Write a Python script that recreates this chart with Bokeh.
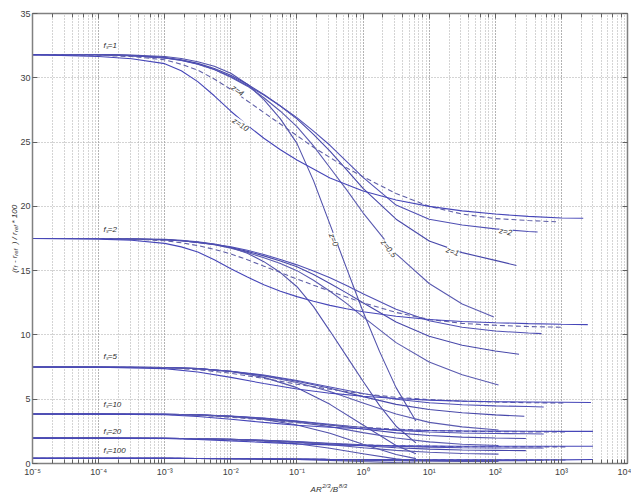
import math
from bokeh.plotting import figure
from bokeh.models import LogAxis, LinearAxis, Label, CustomJSTickFormatter, Range1d, FixedTicker, LogTicker
from bokeh.embed import file_html
from bokeh.resources import INLINE

# ---------------- data ----------------
FS = ["1", "2", "5", "10", "20", "100"]
Z = ["0", "0.5", "1", "2", "4", "10"]

# fine x positions (used by the f_s = 1 and f_s = 2 families)
XF = [1e-5, 1e-4, 3.16e-4, 1e-3, 1.78e-3, 3.16e-3, 5.62e-3, 1e-2, 1.78e-2, 3.16e-2,
      5.62e-2, 0.1, 0.178, 0.316, 0.562, 1]
XF_Z0 = XF + [1.78, 3.16]
XF_Z05 = XF + [3.16, 10, 31.6]
XF_Z1 = XF + [3.16, 10, 31.6, 100]
XF_Z2 = XF + [3.16, 10, 31.6, 100, 316]
XF_Z4 = XF + [3.16, 10, 31.6, 100, 316]
XF_Z10 = XF + [3.16, 10, 31.6, 100, 316, 1000]

# coarse x positions (used by the f_s = 5 ... 100 families)
XB_Z0 = [1e-5, 1e-4, 1e-3, 3.16e-3, 1e-2, 3.16e-2, 0.1, 0.316, 1, 3.16]
XB_Z05 = [1e-5, 1e-4, 1e-3, 3.16e-3, 1e-2, 3.16e-2, 0.1, 0.316, 1, 3.16, 10, 31.6]
XB_Z1 = [1e-5, 1e-4, 1e-3, 3.16e-3, 1e-2, 3.16e-2, 0.1, 0.316, 1, 3.16, 10, 31.6, 100]
XB_Z2 = [1e-5, 1e-4, 1e-3, 3.16e-3, 1e-2, 3.16e-2, 0.1, 0.316, 1, 3.16, 10, 31.6, 100, 316]
XB_Z4 = [1e-5, 1e-4, 1e-3, 3.16e-3, 1e-2, 3.16e-2, 0.1, 0.316, 1, 3.16, 10, 31.6, 100, 316]
XB_Z10 = [1e-5, 1e-4, 1e-3, 3.16e-3, 1e-2, 3.16e-2, 0.1, 0.316, 1, 3.16, 10, 31.6, 100, 316, 1000]

# last x of every curve, per f_s group
END_Z0 = [6.3, 6.3, 6.3, 6.3, 6.3, 6.3]
END_Z05 = [95, 112, 112, 112, 112, 112]
END_Z1 = [209, 229, 275, 290, 290, 290]
END_Z2 = [437, 500, 540, 540, 540, 540]
END_Z4 = [830, 1000, 1180, 1230, 1230, 1230]
END_Z10 = [2140, 2510, 2800, 3000, 3000, 3000]

# f_s = 1
Y1_Z0 = [31.8, 31.8, 31.76, 31.65, 31.5, 31.25, 30.9, 30.35, 29.5, 28.3, 26.8, 24.9, 22.0, 18.6, 15.2, 11.8, 8.7, 5.9, 3.3]
Y1_Z05 = [31.8, 31.8, 31.72, 31.55, 31.37, 31.08, 30.65, 30.05, 29.35, 28.45, 27.4, 26.2, 24.7, 23.0, 21.3, 19.5, 16.3, 14.0, 12.4, 11.4]
Y1_Z1 = [31.8, 31.8, 31.72, 31.57, 31.4, 31.12, 30.72, 30.2, 29.5, 28.7, 27.8, 26.8, 25.6, 24.3, 22.85, 21.4, 19.0, 17.3, 16.4, 15.8, 15.4]
Y1_Z2 = [31.8, 31.8, 31.72, 31.55, 31.35, 31.05, 30.65, 30.1, 29.4, 28.65, 27.8, 26.9, 25.85, 24.75, 23.5, 22.25, 20.1, 19.0, 18.55, 18.25, 18.05, 18.0]
Y1_Z4 = [31.8, 31.75, 31.65, 31.4, 31.05, 30.6, 29.9, 29.1, 28.2, 27.3, 26.4, 25.5, 24.6, 23.8, 23.0, 22.3, 21.0, 20.0, 19.4, 19.05, 18.9, 18.8]
Y1_Z10 = [31.8, 31.65, 31.48, 31.1, 30.55, 29.7, 28.6, 27.4, 26.3, 25.3, 24.4, 23.6, 22.9, 22.2, 21.7, 21.2, 20.5, 20.0, 19.65, 19.4, 19.22, 19.1, 19.07]
# f_s = 2
Y2_Z0 = [17.5, 17.5, 17.48, 17.43, 17.36, 17.25, 17.07, 16.8, 16.35, 15.7, 14.85, 13.75, 12.2, 10.3, 8.35, 6.4, 4.5, 2.9, 1.6]
Y2_Z05 = [17.5, 17.5, 17.46, 17.4, 17.32, 17.2, 17.02, 16.75, 16.42, 16.0, 15.55, 15.0, 14.25, 13.4, 12.45, 11.4, 9.4, 7.9, 6.9, 6.1]
Y2_Z1 = [17.5, 17.5, 17.46, 17.4, 17.32, 17.2, 17.03, 16.8, 16.5, 16.15, 15.75, 15.3, 14.7, 14.0, 13.27, 12.5, 11.0, 9.9, 9.2, 8.75, 8.5]
Y2_Z2 = [17.5, 17.5, 17.46, 17.4, 17.32, 17.2, 17.05, 16.85, 16.58, 16.25, 15.87, 15.45, 14.98, 14.45, 13.85, 13.2, 12.0, 11.1, 10.6, 10.3, 10.15, 10.1]
Y2_Z4 = [17.5, 17.5, 17.45, 17.33, 17.17, 16.95, 16.66, 16.3, 15.85, 15.35, 14.85, 14.35, 13.87, 13.4, 12.95, 12.5, 11.75, 11.2, 10.9, 10.75, 10.65, 10.6]
Y2_Z10 = [17.5, 17.45, 17.36, 17.12, 16.85, 16.45, 15.85, 15.15, 14.5, 13.9, 13.4, 12.98, 12.62, 12.3, 12.03, 11.8, 11.45, 11.2, 11.05, 10.95, 10.88, 10.83, 10.8]
# f_s = 5
Y5_Z0 = [7.5, 7.5, 7.47, 7.38, 7.15, 6.7, 5.9, 4.6, 3.0, 1.4, 0.75]
Y5_Z05 = [7.5, 7.5, 7.47, 7.38, 7.15, 6.8, 6.3, 5.6, 4.7, 3.85, 3.2, 2.85, 2.6]
Y5_Z1 = [7.5, 7.5, 7.47, 7.38, 7.17, 6.85, 6.4, 5.85, 5.2, 4.6, 4.2, 3.95, 3.78, 3.67]
Y5_Z2 = [7.5, 7.5, 7.47, 7.38, 7.18, 6.88, 6.45, 5.95, 5.45, 5.0, 4.72, 4.57, 4.48, 4.43, 4.4]
Y5_Z4 = [7.5, 7.5, 7.45, 7.3, 7.02, 6.62, 6.17, 5.77, 5.42, 5.15, 4.97, 4.85, 4.78, 4.73, 4.7]
Y5_Z10 = [7.5, 7.49, 7.38, 7.12, 6.7, 6.22, 5.8, 5.47, 5.23, 5.05, 4.93, 4.85, 4.8, 4.78, 4.76, 4.75]
# f_s = 10
Y10_Z0 = [3.85, 3.85, 3.83, 3.78, 3.66, 3.43, 3.0, 2.35, 1.5, 0.7, 0.38]
Y10_Z05 = [3.85, 3.85, 3.83, 3.78, 3.67, 3.48, 3.22, 2.87, 2.4, 1.98, 1.68, 1.5, 1.4]
Y10_Z1 = [3.85, 3.85, 3.83, 3.78, 3.68, 3.51, 3.28, 3.0, 2.68, 2.38, 2.18, 2.05, 1.98, 1.94]
Y10_Z2 = [3.85, 3.85, 3.83, 3.78, 3.69, 3.53, 3.3, 3.05, 2.8, 2.58, 2.45, 2.37, 2.33, 2.31, 2.3]
Y10_Z4 = [3.85, 3.85, 3.82, 3.75, 3.6, 3.4, 3.18, 2.98, 2.81, 2.67, 2.57, 2.51, 2.48, 2.46, 2.45]
Y10_Z10 = [3.85, 3.84, 3.79, 3.65, 3.44, 3.2, 2.98, 2.82, 2.7, 2.62, 2.57, 2.54, 2.52, 2.51, 2.5, 2.5]
# f_s = 20
Y20_Z0 = [1.97, 1.97, 1.96, 1.93, 1.87, 1.75, 1.53, 1.19, 0.76, 0.36, 0.2]
Y20_Z05 = [1.97, 1.97, 1.96, 1.93, 1.88, 1.78, 1.65, 1.47, 1.23, 1.02, 0.87, 0.78, 0.73]
Y20_Z1 = [1.97, 1.97, 1.96, 1.93, 1.88, 1.8, 1.68, 1.54, 1.38, 1.23, 1.12, 1.05, 1.02, 1.0]
Y20_Z2 = [1.97, 1.97, 1.96, 1.93, 1.89, 1.81, 1.7, 1.57, 1.45, 1.34, 1.27, 1.23, 1.21, 1.2, 1.2]
Y20_Z4 = [1.97, 1.97, 1.95, 1.92, 1.84, 1.74, 1.63, 1.53, 1.45, 1.38, 1.34, 1.31, 1.3, 1.29, 1.29]
Y20_Z10 = [1.97, 1.96, 1.94, 1.87, 1.76, 1.64, 1.53, 1.45, 1.4, 1.37, 1.35, 1.34, 1.34, 1.34, 1.34, 1.34]
# f_s = 100
Y100_Z0 = [0.4, 0.4, 0.4, 0.39, 0.38, 0.355, 0.31, 0.24, 0.15, 0.07, 0.04]
Y100_Z05 = [0.4, 0.4, 0.4, 0.39, 0.38, 0.36, 0.335, 0.3, 0.25, 0.21, 0.18, 0.165, 0.155]
Y100_Z1 = [0.4, 0.4, 0.4, 0.39, 0.38, 0.365, 0.34, 0.315, 0.285, 0.255, 0.235, 0.225, 0.215, 0.21]
Y100_Z2 = [0.4, 0.4, 0.4, 0.39, 0.385, 0.37, 0.345, 0.32, 0.3, 0.28, 0.265, 0.258, 0.254, 0.252, 0.25]
Y100_Z4 = [0.4, 0.4, 0.4, 0.39, 0.375, 0.355, 0.335, 0.315, 0.3, 0.29, 0.282, 0.278, 0.275, 0.273, 0.272]
Y100_Z10 = [0.4, 0.4, 0.395, 0.385, 0.365, 0.34, 0.32, 0.305, 0.295, 0.29, 0.287, 0.285, 0.284, 0.283, 0.283, 0.31]

Y_TICKS = [0, 5, 10, 15, 20, 25, 30, 35]

# ---------------- figure ----------------
FONT = "Liberation Sans"
AX = "#808080"
TXT = "#404040"
NB = "\u00a0"

p = figure(width=631, height=495, x_axis_type="log",
           x_range=Range1d(1e-5, 1e4), y_range=Range1d(0, 35),
           output_backend="svg", toolbar_location=None,
           min_border_left=32, min_border_right=4, min_border_top=13, min_border_bottom=32,
           background_fill_color="white", border_fill_color="white",
           outline_line_color=AX, outline_line_width=1)

sup = CustomJSTickFormatter(code="""
const m = {"-":"\u207b","0":"\u2070","1":"\u00b9","2":"\u00b2","3":"\u00b3","4":"\u2074","5":"\u2075","6":"\u2076","7":"\u2077","8":"\u2078","9":"\u2079"};
const e = String(Math.round(Math.log10(tick)));
let s = "";
for (const c of e) s += m[c];
return "10" + s;
""")
blank = CustomJSTickFormatter(code="return '';")

p.xaxis[0].formatter = sup
p.yaxis[0].ticker = FixedTicker(ticks=Y_TICKS)

def style_axis(ax, minor=True):
    ax.axis_line_color = AX
    ax.axis_line_width = 1.5
    ax.major_tick_line_color = "#606060"
    ax.minor_tick_line_color = "#606060" if minor else None
    ax.major_tick_in = 5
    ax.major_tick_out = 0
    ax.minor_tick_in = 4
    ax.minor_tick_out = 0
    ax.major_label_text_font = FONT
    ax.major_label_text_font_size = "9px"
    ax.major_label_text_color = TXT
    ax.major_label_standoff = 3

style_axis(p.xaxis[0])
style_axis(p.yaxis[0], minor=False)
p.yaxis[0].major_label_standoff = 2

top = LogAxis(ticker=LogTicker(), formatter=blank)
right = LinearAxis(ticker=FixedTicker(ticks=Y_TICKS), formatter=blank)
style_axis(top)
style_axis(right, minor=False)
for ax in (top, right):
    ax.major_label_text_font_size = "1px"
    ax.major_label_standoff = 0
p.add_layout(top, "above")
p.add_layout(right, "right")

for g in (p.xgrid[0], p.ygrid[0]):
    g.grid_line_color = "#a8a8a8"
    g.grid_line_dash = "1 2"
    g.grid_line_width = 1
p.xgrid[0].minor_grid_line_color = "#a8a8a8"
p.xgrid[0].minor_grid_line_dash = "1 2"
p.ygrid[0].ticker = FixedTicker(ticks=Y_TICKS)

# ---------------- curves ----------------
XFINE = [XF_Z0, XF_Z05, XF_Z1, XF_Z2, XF_Z4, XF_Z10]
XCOARSE = [XB_Z0, XB_Z05, XB_Z1, XB_Z2, XB_Z4, XB_Z10]
ENDS = [END_Z0, END_Z05, END_Z1, END_Z2, END_Z4, END_Z10]
CURVES = [
    [Y1_Z0, Y1_Z05, Y1_Z1, Y1_Z2, Y1_Z4, Y1_Z10],
    [Y2_Z0, Y2_Z05, Y2_Z1, Y2_Z2, Y2_Z4, Y2_Z10],
    [Y5_Z0, Y5_Z05, Y5_Z1, Y5_Z2, Y5_Z4, Y5_Z10],
    [Y10_Z0, Y10_Z05, Y10_Z1, Y10_Z2, Y10_Z4, Y10_Z10],
    [Y20_Z0, Y20_Z05, Y20_Z1, Y20_Z2, Y20_Z4, Y20_Z10],
    [Y100_Z0, Y100_Z05, Y100_Z1, Y100_Z2, Y100_Z4, Y100_Z10],
]
LINE_COLORS = ["#5252ac", "#5a5ab0", "#4848aa", "#5050b4", "#6060a8", "#4646b8"]

for gi, group in enumerate(CURVES):
    base = XFINE if gi < 2 else XCOARSE
    for zi, ys in enumerate(group):
        xs = base[zi] + [ENDS[zi][gi]]
        dash = "5 3" if Z[zi] == "4" else "solid"
        p.line(xs, ys, line_color=LINE_COLORS[zi], line_width=1.1, line_dash=dash)

# ---------------- annotations ----------------
def at(px, py):
    return 10 ** ((px - 32) / 66.1 - 5), (462.7 - py) / 12.857

def lab(text, px, py, angle=0.0, size="8px", bg=None, align="left", baseline="middle",
        style="italic", color="#303030", place="center"):
    x, y = at(px, py)
    lb = Label(x=x, y=y, text=text, angle=angle, text_font=FONT,
               text_font_size=size, text_font_style=style, text_color=color,
               text_align=align, text_baseline=baseline,
               background_fill_color=bg, border_line_color=None)
    p.add_layout(lb, place)

for txt, py in [("1", 45), ("2", 229), ("5", 356), ("10", 404), ("20", 431), ("100", 450)]:
    lab("f\u209b=" + txt, 103, py, bg="white")

for txt, px, py, ang in [("z=4", 237, 90, -35), ("z=10", 240, 124, -33), ("z=0", 333, 239, -68),
                         ("z=0.5", 388, 248, -52), ("z=1", 452, 251, -20), ("z=2", 505, 231, -12)]:
    lab(txt, px, py, angle=math.radians(ang), bg="white", align="center", size="8px")

# axis titles live in the side panels (annotations in the centre are clipped to the frame)
ROT = math.pi / 2
Y_MAIN = "(r" + NB + NB + "-" + NB + "r" + NB * 5 + ")" + NB + "/" + NB + "r" + NB * 4 + "*" + NB + "100"
Y_SUB = "f" + NB * 6 + "ref" + NB * 10 + "ref"
lab(Y_MAIN, 14, 272, angle=ROT, size="8px", baseline="alphabetic", place="left")
lab(Y_SUB, 16, 266.6, angle=ROT, size="6px", baseline="alphabetic", place="left")

X_MAIN = "AR" + NB * 4 + "/B"
X_SUP = "2/3" + NB * 5 + "8/3"
lab(X_MAIN, 310, 489, size="8px", baseline="alphabetic", place="below")
lab(X_SUP, 321.6, 485, size="6px", baseline="alphabetic", place="below")

open("out.html", "w").write(file_html(p, INLINE))
